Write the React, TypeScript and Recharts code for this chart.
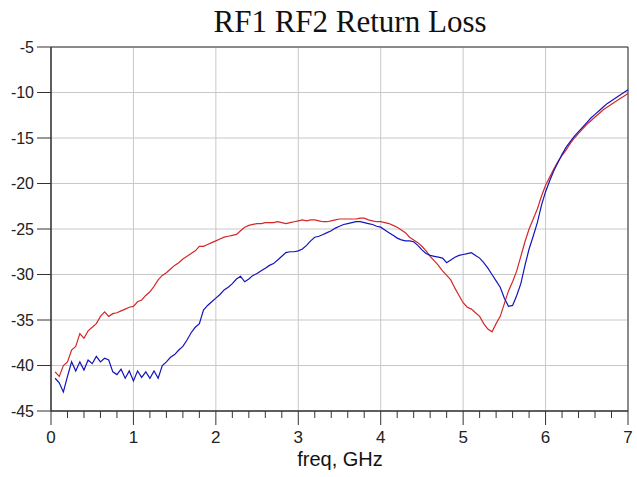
import { LineChart, Line, XAxis, YAxis, CartesianGrid, ReferenceArea } from 'recharts';

// frequency points (GHz)
const freq = [
  0.05, 0.1, 0.15, 0.2, 0.25, 0.3, 0.35, 0.4, 0.45, 0.5,
  0.55, 0.6, 0.65, 0.7, 0.75, 0.8, 0.85, 0.9, 0.95, 1,
  1.05, 1.1, 1.15, 1.2, 1.25, 1.3, 1.35, 1.4, 1.45, 1.5,
  1.55, 1.6, 1.65, 1.7, 1.75, 1.8, 1.85, 1.9, 1.95, 2,
  2.05, 2.1, 2.15, 2.2, 2.25, 2.3, 2.35, 2.4, 2.45, 2.5,
  2.55, 2.6, 2.65, 2.7, 2.75, 2.8, 2.85, 2.9, 2.95, 3,
  3.05, 3.1, 3.15, 3.2, 3.25, 3.3, 3.35, 3.4, 3.45, 3.5,
  3.55, 3.6, 3.65, 3.7, 3.75, 3.8, 3.85, 3.9, 3.95, 4,
  4.05, 4.1, 4.15, 4.2, 4.25, 4.3, 4.35, 4.4, 4.45, 4.5,
  4.55, 4.6, 4.65, 4.7, 4.75, 4.8, 4.85, 4.9, 4.95, 5,
  5.05, 5.1, 5.15, 5.2, 5.25, 5.3, 5.35, 5.4, 5.45, 5.5,
  5.55, 5.6, 5.65, 5.7, 5.75, 5.8, 5.85, 5.9, 5.95, 6,
  6.05, 6.1, 6.15, 6.2, 6.25, 6.3, 6.35, 6.4, 6.45, 6.5,
  6.55, 6.6, 6.65, 6.7, 6.75, 6.8, 6.85, 6.9, 6.95, 7,
];

// RF1 return loss, dB (red)
const rf1 = [
  -40.7, -41.2, -40.0, -39.6, -38.3, -37.9, -36.5, -37.0, -36.2, -35.8,
  -35.4, -34.6, -34.1, -34.6, -34.3, -34.2, -34.0, -33.8, -33.6, -33.5,
  -33.0, -32.8, -32.3, -31.9, -31.3, -30.6, -30.1, -29.8, -29.4, -29.0,
  -28.7, -28.3, -28.0, -27.7, -27.4, -26.9, -26.9, -26.7, -26.5, -26.3,
  -26.1, -25.9, -25.8, -25.7, -25.6, -25.2, -24.8, -24.6, -24.5, -24.4,
  -24.4, -24.3, -24.3, -24.3, -24.2, -24.3, -24.4, -24.3, -24.2, -24.1,
  -24.0, -24.1, -24.0, -24.0, -24.1, -24.2, -24.2, -24.1, -24.0, -23.9,
  -23.9, -23.9, -23.9, -23.9, -23.8, -23.8, -24.0, -24.1, -24.2, -24.2,
  -24.3, -24.4, -24.6, -24.8, -25.1, -25.4, -25.9, -26.2, -26.5, -26.9,
  -27.4, -28.0, -28.5, -29.0, -29.6, -30.1, -30.6, -31.5, -32.3, -33.1,
  -33.6, -33.8, -34.2, -34.6, -35.4, -36.0, -36.3, -35.4, -34.6, -33.2,
  -31.8, -30.8, -29.6, -28.0, -26.4, -25.0, -23.9, -22.8, -21.4, -20.2,
  -19.3, -18.4, -17.6, -16.9, -16.3, -15.6, -15.0, -14.5, -14.0, -13.5,
  -13.1, -12.7, -12.3, -11.9, -11.6, -11.3, -11.0, -10.7, -10.4, -10.1,
];

// RF2 return loss, dB (blue)
const rf2 = [
  -41.4, -41.9, -42.9, -41.2, -39.6, -40.6, -39.6, -40.5, -39.4, -39.8,
  -39.0, -39.6, -39.2, -39.4, -40.7, -41.0, -40.4, -41.4, -40.6, -41.7,
  -40.6, -41.3, -40.7, -41.4, -40.6, -41.4, -40.0, -39.6, -39.1, -38.8,
  -38.3, -37.9, -37.2, -36.4, -35.8, -35.4, -33.9, -33.4, -33.0, -32.6,
  -32.2, -31.7, -31.4, -31.0, -30.5, -30.2, -30.8, -30.5, -30.1, -29.9,
  -29.6, -29.3, -29.0, -28.8, -28.4, -28.0, -27.6, -27.5, -27.5, -27.4,
  -27.2, -26.8, -26.3, -25.9, -25.8, -25.6, -25.4, -25.2, -24.9, -24.7,
  -24.5, -24.4, -24.3, -24.2, -24.2, -24.3, -24.4, -24.5, -24.7, -24.8,
  -25.1, -25.4, -25.7, -26.0, -26.2, -26.3, -26.3, -26.4, -26.8, -27.3,
  -27.7, -27.9, -28.0, -28.1, -28.2, -28.7, -28.4, -28.1, -27.9, -27.8,
  -27.7, -27.6, -27.9, -28.2, -28.7, -29.3, -30.0, -30.7, -31.4, -32.6,
  -33.5, -33.4, -32.3, -31.0, -29.0, -27.2, -25.8, -24.3, -22.4, -20.9,
  -19.7, -18.6, -17.7, -16.8, -16.0, -15.4, -14.8, -14.3, -13.8, -13.3,
  -12.8, -12.4, -12.0, -11.6, -11.2, -10.9, -10.6, -10.3, -10.0, -9.7,
];

const xMajor = [0, 1, 2, 3, 4, 5, 6, 7];
const xTicks = [
  0, 0.2, 0.4, 0.6, 0.8, 1, 1.2, 1.4, 1.6, 1.8, 2, 2.2, 2.4, 2.6, 2.8, 3,
  3.2, 3.4, 3.6, 3.8, 4, 4.2, 4.4, 4.6, 4.8, 5, 5.2, 5.4, 5.6, 5.8, 6,
  6.2, 6.4, 6.6, 6.8, 7,
];
const yTicks = [-45, -40, -35, -30, -25, -20, -15, -10, -5];

const data = freq.map((f, i) => ({ freq: f, rf1: rf1[i], rf2: rf2[i] }));

const AXIS = '#333';
const SANS = '"Liberation Sans", Arial, sans-serif';

// major ticks are long and labelled, minor ticks short
const FreqTick = ({ x, y, payload }: any) => {
  const major = xMajor.includes(payload.value);
  return (
    <g>
      <line x1={x} x2={x} y1={y} y2={y + (major ? 14 : 7)} stroke={AXIS} />
      {major && (
        <text x={x} y={y + 32} textAnchor="middle" fontSize={17} fontFamily={SANS} fill="#222">
          {payload.value}
        </text>
      )}
    </g>
  );
};

export default function App() {
  return (
    <div style={{ position: 'absolute', left: 0, top: 0, width: 637, height: 477, background: '#fff' }}>
      <div
        style={{
          position: 'absolute',
          left: 150,
          width: 400,
          top: 4,
          textAlign: 'center',
          fontFamily: '"Liberation Serif", "Times New Roman", serif',
          fontSize: 31,
          color: '#111',
        }}
      >
        RF1 RF2 Return Loss
      </div>
      <LineChart width={637} height={477} data={data} margin={{ top: 47, right: 9, bottom: 36, left: 0 }}>
        <CartesianGrid stroke="#c8c8c8" verticalValues={xMajor} horizontalValues={yTicks} />
        <XAxis
          type="number"
          dataKey="freq"
          domain={[0, 7]}
          ticks={xTicks}
          interval={0}
          tick={<FreqTick />}
          tickLine={false}
          tickSize={0}
          tickMargin={0}
          axisLine={{ stroke: AXIS }}
          height={30}
        />
        <YAxis
          type="number"
          domain={[-45, -5]}
          ticks={yTicks}
          interval={0}
          width={51}
          tickSize={14}
          tickMargin={3}
          tickLine={{ stroke: AXIS }}
          axisLine={{ stroke: AXIS }}
          tick={{ fontSize: 16, fontFamily: SANS, fill: '#222' }}
        />
        <ReferenceArea x1={0} x2={7} y1={-45} y2={-5} fill="none" stroke={AXIS} strokeWidth={1} />
        <Line type="linear" dataKey="rf1" stroke="#d42828" strokeWidth={1.2} dot={false} isAnimationActive={false} />
        <Line type="linear" dataKey="rf2" stroke="#1414bc" strokeWidth={1.2} dot={false} isAnimationActive={false} />
      </LineChart>
      <div
        style={{
          position: 'absolute',
          left: 240,
          width: 200,
          top: 448,
          textAlign: 'center',
          fontFamily: SANS,
          fontSize: 20,
          color: '#111',
        }}
      >
        freq, GHz
      </div>
    </div>
  );
}
